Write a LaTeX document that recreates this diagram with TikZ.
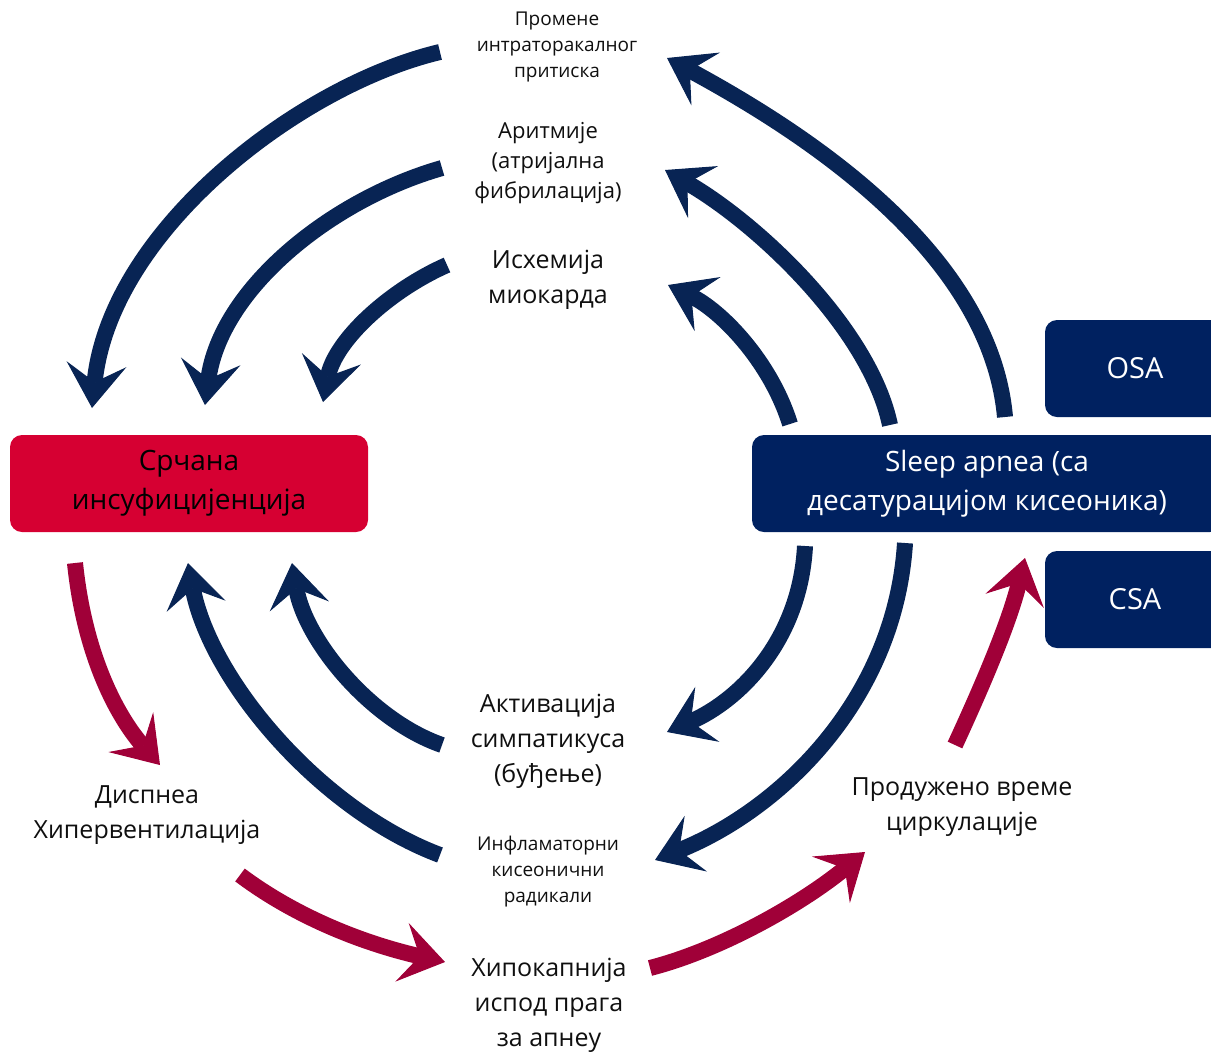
\documentclass[tikz,border=0pt]{standalone}
\usepackage{fontspec}
\setmainfont{Open Sans}
\usetikzlibrary{arrows.meta}
\definecolor{navybox}{RGB}{0,33,96}
\definecolor{navyarrow}{RGB}{8,36,84}
\definecolor{redbox}{RGB}{214,0,50}
\definecolor{crimson}{RGB}{160,0,56}
\definecolor{txt}{RGB}{15,15,15}
\begin{document}
\begin{tikzpicture}[x=1pt,y=-1pt,
  lbl/.style={align=center, inner sep=0pt, text=txt},
  lblL/.style={lbl, font=\fontsize{25}{35}\selectfont},
  lblM/.style={lbl, font=\fontsize{22}{30}\selectfont},
  lblS/.style={lbl, font=\fontsize{19}{26}\selectfont},
  boxred/.style={fill=redbox, rounded corners=12pt, text=black, align=center, inner sep=0pt, font=\fontsize{28}{39}\selectfont},
  boxnavy/.style={fill=navybox, rounded corners=12pt, text=white, align=center, inner sep=0pt, font=\fontsize{28}{39}\selectfont},
  tipshape/.style={-{Stealth[length=44pt,width=60pt,inset=18pt,line width=1pt]}},
  navyarr/.style={draw=navyarrow, line width=16pt, tipshape},
  redarr/.style={draw=crimson, line width=16pt, tipshape}
]
\useasboundingbox (0,0) rectangle (1211,1053);

% boxes
\node[boxred, minimum width=358pt, minimum height=97pt] (hf) at (189,483.5) {Срчана\\инсуфицијенција};
\node[boxnavy, minimum width=470pt, minimum height=97pt] (sa) at (987,483.5) {Sleep apnea (са\\десатурацијом кисеоника)};
\node[boxnavy, minimum width=180pt, minimum height=97pt, font=\fontsize{29}{39}\selectfont] (osa) at (1135,368.5) {OSA};
\node[boxnavy, minimum width=180pt, minimum height=97pt, font=\fontsize{29}{39}\selectfont] (csa) at (1135,599.5) {CSA};

% labels
\node[lblS] (itp) at (557,47) {Промене\\интраторакалног\\притиска};
\node[lblM] (arr) at (548,163) {Аритмије\\(атријална\\фибрилација)};
\node[lblL] (isch) at (548,280) {Исхемија\\миокарда};
\node[lblL] (symp) at (548,741) {Активација\\симпатикуса\\(буђење)};
\node[lblS] (infl) at (548,872) {Инфламаторни\\кисеонични\\радикали};
\node[lblL] (dysp) at (147,815) {Диспнеа\\Хипервентилација};
\node[lblL] (circ) at (962,807) {Продужено време\\циркулације};
\node[lblL] (hypo) at (549,1005) {Хипокапнија\\испод прага\\за апнеу};

% coordinates
\coordinate (a1s) at (1005,417); \coordinate (a1e) at (667,58);
\coordinate (a2s) at (890,425);  \coordinate (a2e) at (665,170);
\coordinate (a3s) at (790,424);  \coordinate (a3e) at (668,285);
\coordinate (b1s) at (440,52);   \coordinate (b1e) at (92,408);
\coordinate (b2s) at (442,168);  \coordinate (b2e) at (205,405);
\coordinate (b3s) at (447,265);  \coordinate (b3e) at (323,402);
\coordinate (c1s) at (442,745);  \coordinate (c1e) at (292,563);
\coordinate (c2s) at (440,855);  \coordinate (c2e) at (188,563);
\coordinate (d1s) at (805,546);  \coordinate (d1e) at (667,732);
\coordinate (d2s) at (905,543);  \coordinate (d2e) at (655,860);
\coordinate (e1s) at (75,563);   \coordinate (e1e) at (160,765);
\coordinate (e2s) at (240,875);  \coordinate (e2e) at (445,962);
\coordinate (e3s) at (650,968);  \coordinate (e3e) at (865,852);
\coordinate (e4s) at (955,745);  \coordinate (e4e) at (1025,558);

% navy arrows top right
\draw[navyarr] (a1s) .. controls (990,250) and (800,130) .. (a1e);
\draw[navyarr] (a2s) .. controls (870,330) and (760,225) .. (a2e);
\draw[navyarr] (a3s) .. controls (770,360) and (720,310) .. (a3e);
% navy arrows top left
\draw[navyarr] (b1s) .. controls (300,85) and (110,230) .. (b1e);
\draw[navyarr] (b2s) .. controls (330,200) and (220,290) .. (b2e);
\draw[navyarr] (b3s) .. controls (390,290) and (335,340) .. (b3e);
% navy arrows bottom left
\draw[navyarr] (c1s) .. controls (370,720) and (305,640) .. (c1e);
\draw[navyarr] (c2s) .. controls (320,810) and (210,680) .. (c2e);
% navy arrows bottom right
\draw[navyarr] (d1s) .. controls (800,640) and (740,700) .. (d1e);
\draw[navyarr] (d2s) .. controls (895,700) and (780,810) .. (d2e);
% crimson arrows
\draw[redarr] (e1s) .. controls (85,660) and (120,720) .. (e1e);
\draw[redarr] (e2s) .. controls (300,920) and (370,945) .. (e2e);
\draw[redarr] (e3s) .. controls (720,950) and (800,905) .. (e3e);
\draw[redarr] (e4s) .. controls (985,680) and (1010,620) .. (e4e);
\end{tikzpicture}
\end{document}
